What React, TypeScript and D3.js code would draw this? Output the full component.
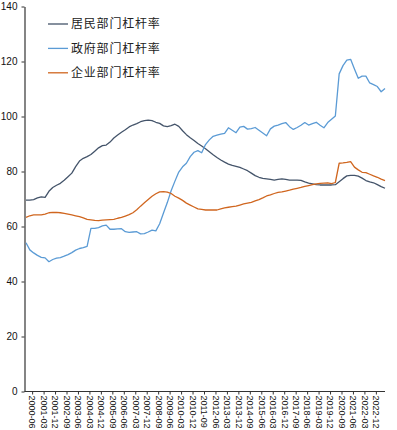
import React, { useEffect, useRef } from 'react'
import * as d3 from 'd3'

// quarterly categories, 1999-12 .. 2023-06
const quarters: string[] = []
for (let yr = 1999; yr <= 2023; yr++) {
  for (const m of ['03', '06', '09', '12']) {
    const q = yr + '-' + m
    if (q >= '1999-12' && q <= '2023-06') quarters.push(q)
  }
}

const tickLabels = [
  '2000-06', '2001-03', '2001-12', '2002-09', '2003-06', '2004-03', '2004-12', '2005-09',
  '2006-06', '2007-03', '2007-12', '2008-09', '2009-06', '2010-03', '2010-12', '2011-09',
  '2012-06', '2013-03', '2013-12', '2014-09', '2015-06', '2016-03', '2016-12', '2017-09',
  '2018-06', '2019-03', '2019-12', '2020-09', '2021-06', '2022-03', '2022-12'
]

const yTicks = [0, 20, 40, 60, 80, 100, 120, 140]

const seriesNames = ['居民部门杠杆率', '政府部门杠杆率', '企业部门杠杆率']
const seriesColors = ['#44546A', '#5B9BD5', '#D0661F']

const household = [
  69.6, 69.6, 69.8, 70.4, 70.8, 70.6, 72.8, 74.2, 75.0, 75.7,
  76.8, 78.1, 79.4, 81.8, 83.8, 84.8, 85.4, 86.2, 87.4, 88.6,
  89.4, 89.6, 90.7, 92.2, 93.3, 94.3, 95.2, 96.2, 96.9, 97.4,
  98.1, 98.5, 98.7, 98.5, 97.9, 97.5, 96.6, 96.3, 96.7, 97.2,
  96.4, 94.8, 93.4, 92.3, 91.3, 90.2, 89.3, 88.3, 87.2, 86.1,
  85.1, 84.2, 83.4, 82.7, 82.2, 81.9, 81.5, 80.9, 80.3, 79.4,
  78.5, 77.9, 77.5, 77.3, 77.1, 76.9, 77.1, 77.3, 77.1, 76.9,
  76.9, 76.9, 76.8, 76.2, 75.8, 75.5, 75.2, 75.1, 75.1, 75.1,
  75.1, 75.2, 76.3, 77.4, 78.4, 78.6, 78.6, 78.3, 77.6, 76.7,
  76.2, 75.9, 75.2, 74.5, 73.9
]

const government = [
  54.1, 51.5, 50.4, 49.5, 48.8, 48.6, 47.2, 48.0, 48.5, 48.7,
  49.2, 49.8, 50.5, 51.4, 52.0, 52.3, 52.8, 59.3, 59.3, 59.6,
  60.2, 60.5, 59.0, 59.0, 59.1, 59.2, 58.1, 57.9, 58.0, 58.1,
  57.3, 57.4, 58.0, 58.7, 58.4, 61.0, 64.9, 68.7, 73.0, 76.5,
  79.8, 81.7, 83.0, 85.4, 87.0, 87.6, 86.8, 89.8, 91.5, 92.8,
  93.2, 93.6, 93.9, 95.9, 95.0, 94.1, 96.1, 96.4, 95.4, 95.6,
  96.0, 95.0, 94.0, 93.0, 95.5, 96.5, 96.9, 97.4, 97.8, 96.3,
  95.3, 96.0, 96.8, 97.8, 96.9, 97.4, 97.9, 96.8, 95.9, 97.8,
  99.0, 100.2, 115.5, 118.5, 120.5, 120.8, 117.3, 113.9, 114.7, 114.7,
  112.2, 111.6, 110.9, 109.0, 110.2
]

const corporate = [
  63.3, 63.9, 64.2, 64.2, 64.2, 64.5, 65.0, 65.1, 65.1, 65.0,
  64.8, 64.5, 64.2, 63.9, 63.6, 63.1, 62.6, 62.4, 62.2, 62.1,
  62.3, 62.4, 62.5, 62.6, 63.0, 63.3, 63.8, 64.3, 65.0, 66.1,
  67.4, 68.6, 69.8, 71.0, 71.9, 72.6, 72.7, 72.5, 72.0, 71.0,
  70.3, 69.5, 68.5, 67.8, 67.1, 66.4, 66.2, 66.0, 66.0, 66.0,
  66.0, 66.4, 66.8, 67.0, 67.2, 67.4, 67.8, 68.2, 68.5, 68.8,
  69.3, 69.8, 70.4, 71.1, 71.5, 72.0, 72.4, 72.6, 72.9, 73.2,
  73.6, 73.9, 74.2, 74.6, 74.9, 75.2, 75.5, 75.7, 75.8, 75.9,
  75.6, 76.0, 83.0, 83.1, 83.3, 83.6, 81.6, 80.6, 79.7, 79.6,
  79.0, 78.4, 77.9, 77.2, 76.7
]

const W = 397
const H = 430

export default function App () {
  const ref = useRef<SVGSVGElement>(null)

  useEffect(() => {
    const svg = d3.select(ref.current)
    svg.selectAll('*').remove()

    const x = d3.scalePoint<string>().domain(quarters).range([26, 385])
    const y = d3.scaleLinear().domain([0, 140]).range([391.5, 6.5])
    const axisFont = '"Liberation Sans", Arial, sans-serif'

    // y axis
    const yAxis = svg.append('g')
      .attr('transform', 'translate(24.5,0)')
      .call(d3.axisLeft(y).tickValues(yTicks).tickSize(3).tickSizeOuter(0).tickPadding(4))
    yAxis.select('.domain').attr('stroke', '#333').attr('stroke-width', 1.2)
    yAxis.selectAll('.tick line').attr('stroke', '#333')
    yAxis.selectAll('.tick text')
      .attr('font-family', axisFont).attr('font-size', 10).attr('fill', '#111')

    // x axis
    svg.append('line')
      .attr('x1', 24.5).attr('x2', 385).attr('y1', 391.5).attr('y2', 391.5)
      .attr('stroke', '#333').attr('stroke-width', 1.2)
    const xAxis = svg.append('g')
      .attr('transform', 'translate(-1.5,391.5)')
      .call(d3.axisBottom(x).tickValues(tickLabels).tickSize(3).tickSizeOuter(0))
    xAxis.select('.domain').remove()
    xAxis.selectAll('.tick line').attr('stroke', '#333')
    xAxis.selectAll('.tick text')
      .attr('font-family', axisFont).attr('font-size', 9).attr('fill', '#111')
      .attr('transform', 'rotate(90)')
      .attr('x', 4).attr('y', 0).attr('dy', '0.35em')
      .style('text-anchor', 'start')

    // lines
    const allSeries = [household, government, corporate]
    const line = d3.line<number>()
      .x((d, i) => x(quarters[i]) as number)
      .y(d => y(d))

    allSeries.forEach((s, k) => {
      svg.append('path')
        .datum(s)
        .attr('fill', 'none')
        .attr('stroke', seriesColors[k])
        .attr('stroke-width', 1.3)
        .attr('stroke-linejoin', 'round')
        .attr('d', line)
    })

    // legend
    const legend = svg.append('g')
    seriesNames.forEach((name, k) => {
      const ly = 24 + k * 24.4
      legend.append('line')
        .attr('x1', 48).attr('x2', 68).attr('y1', ly).attr('y2', ly)
        .attr('stroke', seriesColors[k]).attr('stroke-width', 1.3)
      legend.append('text')
        .attr('x', 71).attr('y', ly).attr('dy', '0.36em')
        .attr('font-family', '"Noto Sans CJK SC", sans-serif')
        .attr('font-size', 12).attr('letter-spacing', 0.8)
        .attr('fill', '#222')
        .text(name)
    })
  }, [])

  return (
    <svg ref={ref} width={W} height={H}
      style={{ position: 'absolute', left: 0, top: 0, background: '#fff' }} />
  )
}
